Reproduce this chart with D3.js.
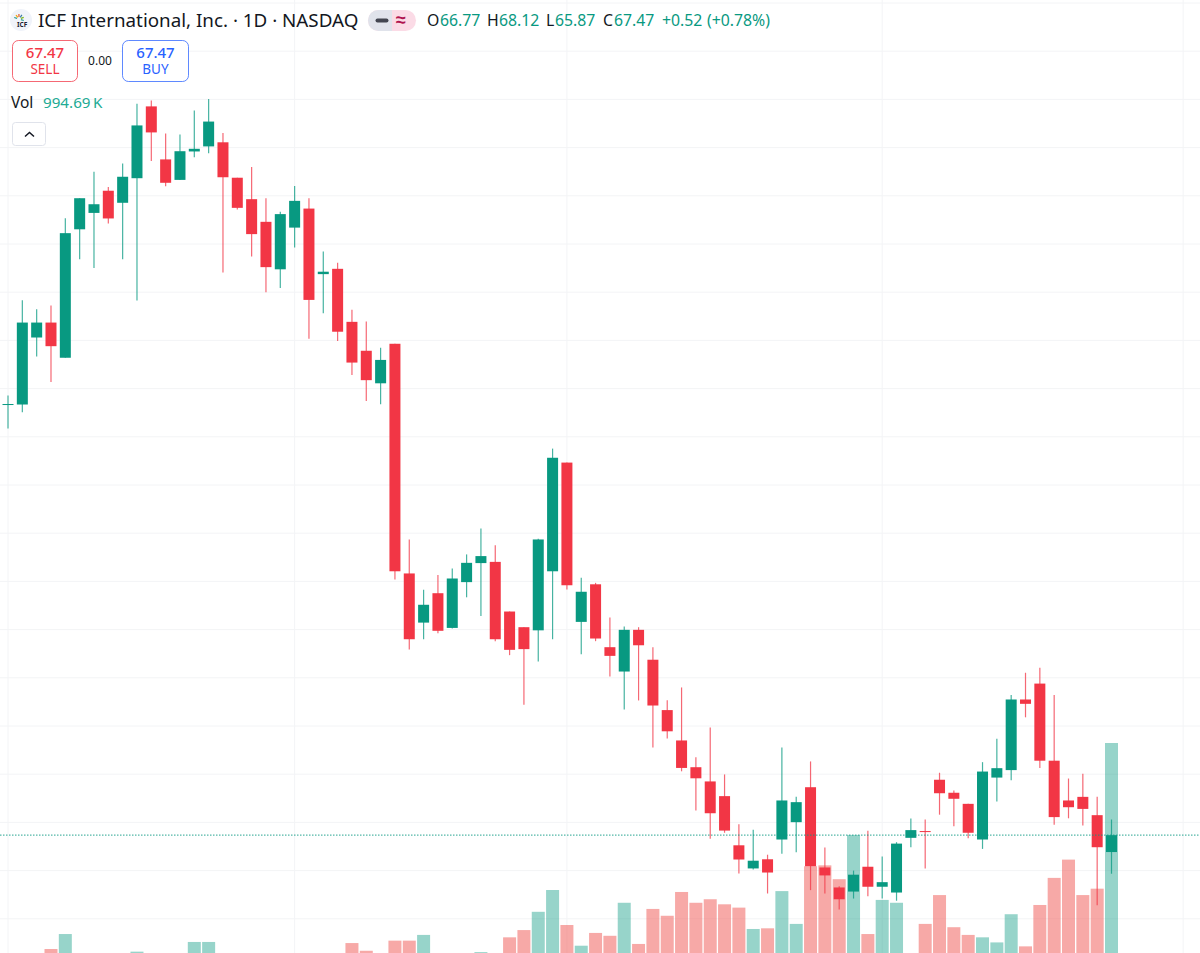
<!DOCTYPE html>
<html>
<head>
<meta charset="utf-8">
<title>ICF International, Inc.</title>
<script src="https://cdn.jsdelivr.net/npm/d3@7/dist/d3.min.js"></script>
<style>
html, body { margin: 0; padding: 0; background: #fff; overflow: hidden; }
svg { display: block; }
text { font-family: "Noto Sans", sans-serif; }
</style>
</head>
<body>
<div id="chart"></div>
<script>
// daily bars
var opens = [85.34,85.34,88.12,88.74,87.28,92.61,93.29,94.21,93.71,94.73,97.71,95.51,94.66,95.84,96.05,96.22,94.75,93.86,92.92,90.95,
    92.68,93.47,90.75,90.97,88.77,87.57,86.22,87.86,78.33,76.29,77.51,76.07,77.97,78.76,78.81,76.75,76.10,75.97,78.42,82.93,
    76.32,77.88,75.27,74.26,75.99,74.75,72.66,71.40,70.29,69.70,69.09,67.05,66.09,66.47,67.29,68.01,69.46,66.13,65.30,65.13,
    66.16,65.33,65.09,67.36,67.64,69.77,69.23,68.77,67.29,69.86,70.17,73.10,73.76,70.56,68.91,69.06,68.30,66.77];
var highs = [85.71,89.67,89.29,89.45,93.07,93.90,95.00,94.37,95.34,97.82,97.95,96.59,96.54,97.54,98.02,96.61,94.75,95.20,93.90,93.34,
    94.41,93.90,91.69,91.22,89.27,88.78,87.69,87.86,79.74,77.65,78.27,78.54,79.12,80.20,79.50,76.75,76.10,79.77,83.51,82.93,
    78.15,77.94,76.50,76.13,76.10,75.27,73.07,73.60,70.70,71.94,69.99,67.92,67.70,66.66,71.11,69.06,70.53,66.96,65.35,66.00,
    67.65,66.58,67.18,68.16,68.12,70.06,69.32,68.77,70.50,71.47,73.29,74.21,74.42,73.29,69.82,70.02,69.06,68.12];
var lows = [84.34,85.02,87.33,86.27,87.28,91.37,91.00,92.85,91.37,89.66,95.44,94.40,94.66,95.60,95.77,90.82,93.43,91.48,90.00,90.17,
    91.85,88.07,89.13,87.97,86.56,85.49,85.35,78.08,75.17,75.60,75.85,76.05,77.34,76.56,75.52,74.94,72.88,74.68,75.60,77.66,
    74.98,75.52,74.05,72.68,73.06,71.11,71.48,70.12,68.49,67.32,67.57,65.88,66.05,65.05,66.70,66.76,65.19,65.05,64.39,64.84,
    64.94,64.84,64.75,66.97,66.09,68.32,67.84,67.34,66.90,68.87,69.75,72.36,70.26,67.90,68.17,67.87,64.56,65.87];
var closes = [85.36,88.74,88.74,87.76,92.45,93.90,93.65,93.06,94.79,96.92,96.63,94.54,95.85,95.95,97.08,94.77,93.50,92.41,91.04,93.24,
    93.79,89.68,90.85,88.36,87.08,86.35,87.19,78.42,75.60,77.03,75.95,78.12,78.77,79.05,75.60,75.16,75.19,79.74,83.13,77.84,
    77.57,75.63,74.91,75.99,75.35,72.85,71.78,70.26,69.83,68.38,67.66,66.46,66.41,65.92,68.91,68.84,66.18,65.80,64.81,65.83,
    65.33,65.52,67.12,67.68,67.62,69.21,68.98,67.57,70.11,70.25,73.10,72.92,70.56,68.22,68.63,68.56,66.97,67.47];
// volume in thousands, small ones run off the bottom of the window
var volumes = [30,30,30,59,127,30,30,30,30,47,30,30,30,91,91,30,30,30,30,30,
    30,30,30,30,86,51,30,97,97,123,30,30,30,45,30,112,145,228,327,168,
    74,132,119,269,82,241,210,318,269,285,262,247,150,153,322,173,435,439,376,577,
    127,282,269,18,173,304,158,123,112,89,217,71,259,382,465,304,333,994.69];

var priceGrid = [64,66,68,70,72,74,76,78,80,82,84,86,88,90,92,94,96,98,100,102];
var timeGrid = [0,20,39,61,82];
var lastClose = 67.47;

var width = 1200;
var height = 953;
var green = '#089981';
var red = '#f23645';
var body_width = 11;
var vol_width = 13;

var svg = d3.select('#chart')
    .append('svg')
    .attr('width', width)
    .attr('height', height);

var x = d3.scaleLinear().domain([0, 77]).range([8, 1111.5]);
var y = d3.scaleLinear().domain([64, 98]).range([918.8, 99.4]);
var yVol = d3.scaleLinear().domain([0, 994.69]).range([962, 743]);

var indexes = d3.range(closes.length);

function isUp(i) {
    return closes[i] >= opens[i];
}

// grid
svg.append('g')
    .selectAll('line')
    .data(priceGrid)
  .enter()
    .append('line')
    .attr('x1', 0)
    .attr('x2', width)
    .attr('y1', function(d) { return y(d); })
    .attr('y2', function(d) { return y(d); })
    .attr('stroke', '#f3f4f6')
    .attr('stroke-width', 1);

svg.append('g')
    .selectAll('line')
    .data(timeGrid)
  .enter()
    .append('line')
    .attr('x1', function(d) { return x(d); })
    .attr('x2', function(d) { return x(d); })
    .attr('y1', 0)
    .attr('y2', height)
    .attr('stroke', '#f3f4f6')
    .attr('stroke-width', 1);

// volume
svg.append('g')
    .selectAll('rect')
    .data(indexes)
  .enter()
    .append('rect')
    .attr('x', function(i) { return x(i) - vol_width / 2; })
    .attr('y', function(i) { return yVol(volumes[i]); })
    .attr('width', vol_width)
    .attr('height', function(i) { return yVol(0) - yVol(volumes[i]); })
    .attr('fill', function(i) { return isUp(i) ? green : '#f0544f'; })
    .attr('fill-opacity', function(i) { return isUp(i) ? 0.42 : 0.5; });

// wicks
svg.append('g')
    .selectAll('line')
    .data(indexes)
  .enter()
    .append('line')
    .attr('x1', function(i) { return x(i); })
    .attr('x2', function(i) { return x(i); })
    .attr('y1', function(i) { return y(highs[i]); })
    .attr('y2', function(i) { return y(lows[i]); })
    .attr('stroke', function(i) { return isUp(i) ? green : red; })
    .attr('stroke-opacity', 0.75)
    .attr('stroke-width', 1.2);

// bodies
svg.append('g')
    .selectAll('rect')
    .data(indexes)
  .enter()
    .append('rect')
    .attr('x', function(i) { return x(i) - body_width / 2; })
    .attr('y', function(i) { return y(Math.max(opens[i], closes[i])); })
    .attr('width', body_width)
    .attr('height', function(i) { return Math.max(1, Math.abs(y(opens[i]) - y(closes[i]))); })
    .attr('fill', function(i) { return isUp(i) ? green : red; });

// last price line
svg.append('line')
    .attr('x1', 0)
    .attr('x2', width)
    .attr('y1', y(lastClose))
    .attr('y2', y(lastClose))
    .attr('stroke', green)
    .attr('stroke-opacity', 0.7)
    .attr('stroke-width', 1.2)
    .attr('stroke-dasharray', '1.5 1.5');

// header logo
var logo = svg.append('g');
logo.append('circle')
    .attr('cx', 21)
    .attr('cy', 20)
    .attr('r', 11)
    .attr('fill', '#f0f3fa');
var ray_colors = ['#2a9d8f', '#f4a300', '#e4572e', '#3a7ca5', '#7cb518', '#2a9d8f'];
ray_colors.forEach(function(c, i) {
    var a = -Math.PI + i * Math.PI / 5 + 0.3;
    logo.append('line')
        .attr('x1', 19 + 2 * Math.cos(a))
        .attr('y1', 19 + 2 * Math.sin(a))
        .attr('x2', 19 + 5 * Math.cos(a))
        .attr('y2', 19 + 5 * Math.sin(a))
        .attr('stroke', c)
        .attr('stroke-width', 1.2);
});
logo.append('text')
    .attr('x', 17)
    .attr('y', 26.5)
    .attr('font-size', 6.5)
    .attr('font-weight', 700)
    .attr('fill', '#1c2030')
    .text('ICF');

// title
svg.append('text')
    .attr('x', 38)
    .attr('y', 27)
    .attr('font-size', 18.8)
    .attr('fill', '#131722')
    .text('ICF International, Inc. · 1D · NASDAQ');

// market status pill
svg.append('rect')
    .attr('x', 368)
    .attr('y', 10)
    .attr('width', 48)
    .attr('height', 21)
    .attr('rx', 10.5)
    .attr('fill', '#fbdbe6');
svg.append('path')
    .attr('d', 'M378.5 10H392V31H378.5A10.5 10.5 0 0 1 378.5 10Z')
    .attr('fill', '#e0e3eb');
svg.append('rect')
    .attr('x', 375.5)
    .attr('y', 18.5)
    .attr('width', 13)
    .attr('height', 4)
    .attr('rx', 2)
    .attr('fill', '#434651');
svg.append('text')
    .attr('x', 396)
    .attr('y', 26)
    .attr('font-size', 18)
    .attr('font-weight', 700)
    .attr('fill', '#b0134f')
    .text('≈');

// ohlc readout
var ohlc = svg.append('text')
    .attr('y', 26)
    .attr('font-size', 15.8);
[['O', '#131722', 427], ['66.77', green, 440], ['H', '#131722', 487], ['68.12', green, 499], ['L', '#131722', 546], ['65.87', green, 555],
 ['C', '#131722', 603], ['67.47', green, 614], ['+0.52', green, 662], ['(+0.78%)', green, 707]].forEach(function(d) {
    ohlc.append('tspan')
        .attr('x', d[2])
        .attr('fill', d[1])
        .text(d[0]);
});

// sell and buy buttons
function tradeButton(bx, bw, price, label, color) {
    svg.append('rect')
        .attr('x', bx + 0.5)
        .attr('y', 40.5)
        .attr('width', bw)
        .attr('height', 41)
        .attr('rx', 6)
        .attr('fill', '#fff')
        .attr('stroke', color)
        .attr('stroke-opacity', 0.75);
    svg.append('text')
        .attr('x', bx + bw / 2 + 0.5)
        .attr('y', 58)
        .attr('text-anchor', 'middle')
        .attr('font-size', 15)
        .attr('font-weight', 500)
        .attr('fill', color)
        .text(price);
    svg.append('text')
        .attr('x', bx + bw / 2 + 0.5)
        .attr('y', 74)
        .attr('text-anchor', 'middle')
        .attr('font-size', 13.5)
        .attr('fill', color)
        .text(label);
}
tradeButton(12, 65, '67.47', 'SELL', red);
tradeButton(122, 66, '67.47', 'BUY', '#2962ff');

svg.append('text')
    .attr('x', 100)
    .attr('y', 65)
    .attr('text-anchor', 'middle')
    .attr('font-size', 12)
    .attr('fill', '#131722')
    .text('0.00');

// volume legend
svg.append('text')
    .attr('x', 11)
    .attr('y', 108)
    .attr('font-size', 15.5)
    .attr('fill', '#131722')
    .text('Vol');
svg.append('text')
    .attr('x', 43)
    .attr('y', 108)
    .attr('font-size', 15.2)
    .attr('fill', '#22ab94')
    .text('994.69\u2009K');

// collapse button
svg.append('rect')
    .attr('x', 12.5)
    .attr('y', 122.5)
    .attr('width', 33)
    .attr('height', 23)
    .attr('rx', 3)
    .attr('fill', '#fff')
    .attr('stroke', '#e0e3eb');
svg.append('path')
    .attr('d', 'M25 136.5L29.5 132.5L34 136.5')
    .attr('fill', 'none')
    .attr('stroke', '#131722')
    .attr('stroke-width', 1.5);
</script>
</body>
</html>
